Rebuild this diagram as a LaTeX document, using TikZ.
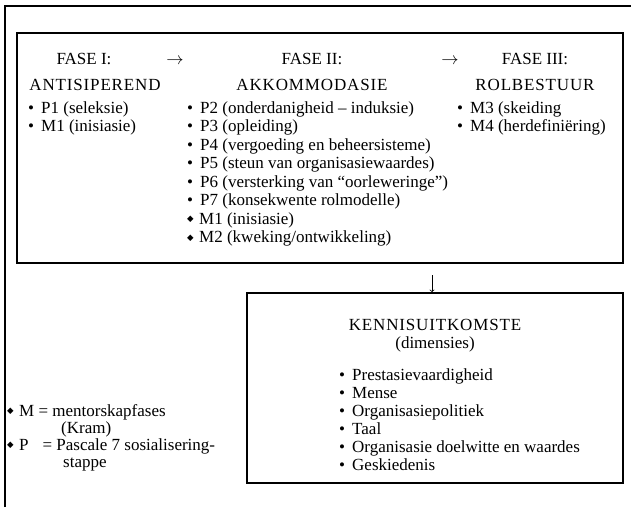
\documentclass[tikz,border=0pt]{standalone}
\usepackage{fontspec}
\setmainfont{Liberation Serif}
\newfontfamily\symfont{DejaVu Sans}
\newfontfamily\spacedfont[LetterSpace=5]{Liberation Serif}
\newcommand{\bul}{\makebox[13pt][l]{•}}
\newcommand{\dia}{\makebox[12pt][l]{\raisebox{2.5pt}{\symfont\fontsize{8.5}{8.5}\selectfont ◆}}}

\begin{document}
\begin{tikzpicture}[x=1pt, y=1pt]
	\tikzstyle{every node}=[inner sep=0pt, anchor=base west, font=\fontsize{17}{18}\selectfont]
	\tikzstyle{kop}=[anchor=base, font={\spacedfont\fontsize{17}{18}\selectfont}]
	\tikzstyle{box}=[draw, line width=1.6pt, minimum width=#1, anchor=center]
	\useasboundingbox (0,0) rectangle (631,-507);
	% raam
	\draw [line width=1.6pt] (5,-507) -- (5,-6) -- (631,-6);
	\node (fases) [box=606pt, minimum height=230pt] at (320,-148) {};
	\node (kennis) [box=376pt, minimum height=190pt] at (435,-388) {};
	% fases
	\node (f1) at (84,-64) [anchor=base] {FASE I:};
	\node (a1) at (175,-64) [anchor=base] {$\rightarrow$};
	\node (f2) at (312,-64) [anchor=base] {FASE II:};
	\node (a2) at (450,-64) [anchor=base] {$\rightarrow$};
	\node (f3) at (535,-64) [anchor=base] {FASE III:};
	\node (n1) at (95,-90) [kop] {ANTISIPEREND};
	\node (n2) at (312,-90) [kop] {AKKOMMODASIE};
	\node (n3) at (535,-90) [kop] {ROLBESTUUR};
	\node (c1p1) at (28,-113) {\bul P1 (seleksie)};
	\node (c1m1) at (28,-131.5) {\bul M1 (inisiasie)};
	\node (c2p2) at (187,-113) {\bul P2 (onderdanigheid – induksie)};
	\node (c2p3) at (187,-131.5) {\bul P3 (opleiding)};
	\node (c2p4) at (187,-150) {\bul P4 (vergoeding en beheersisteme)};
	\node (c2p5) at (187,-168.5) {\bul P5 (steun van organisasiewaardes)};
	\node (c2p6) at (187,-187) {\bul P6 (versterking van “oorleweringe”)};
	\node (c2p7) at (187,-205.5) {\bul P7 (konsekwente rolmodelle)};
	\node (c2m1) at (187,-224) {\dia M1 (inisiasie)};
	\node (c2m2) at (187,-242.5) {\dia M2 (kweking/ontwikkeling)};
	\node (c3m3) at (457,-113) {\bul M3 (skeiding};
	\node (c3m4) at (457,-131.5) {\bul M4 (herdefiniëring)};
	% kennisuitkomste
	\node (k0) at (435,-330) [kop] {KENNISUITKOMSTE};
	\node (k00) at (435,-348) [anchor=base] {(dimensies)};
	\node (k1) at (339,-380) {\bul Prestasievaardigheid};
	\node (k2) at (339,-398) {\bul Mense};
	\node (k3) at (339,-416) {\bul Organisasiepolitiek};
	\node (k4) at (339,-434) {\bul Taal};
	\node (k5) at (339,-452) {\bul Organisasie doelwitte en waardes};
	\node (k6) at (339,-470) {\bul Geskiedenis};
	% sleutel
	\node (lm) at (7,-416) {\dia M = mentorskapfases};
	\node (lk) at (61,-433) {(Kram)};
	\node (lp) at (7,-450) {\dia P\hspace{14pt}= Pascale 7 sosialisering-};
	\node (ls) at (63,-467) {stappe};
	\coordinate (pijl) at (432,-275);
	\draw [->, line width=0.8pt] (pijl) -- (pijl |- kennis.north);
\end{tikzpicture}
\end{document}
